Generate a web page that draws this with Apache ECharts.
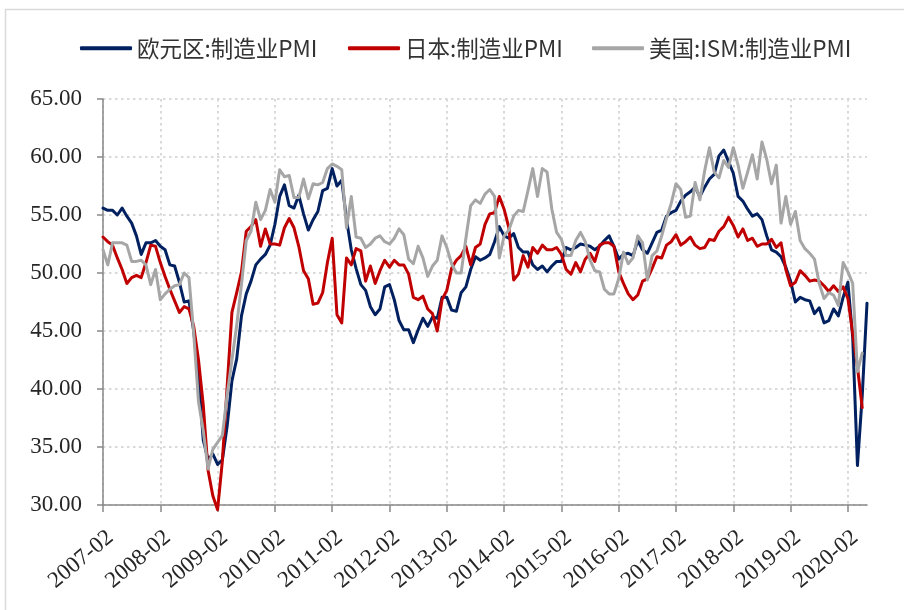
<!DOCTYPE html>
<html>
<head>
<meta charset="utf-8">
<script src="https://cdn.jsdelivr.net/npm/echarts@6/dist/echarts.min.js"></script>
<style>
  html, body { margin: 0; padding: 0; background: #ffffff; }
  #chart { width: 904px; height: 610px; }
</style>
</head>
<body>
<div id="chart"></div>
<script>
// Monthly observations, 2007-02 .. 2020-06
const months = [
  '2007-02','2007-03','2007-04','2007-05','2007-06','2007-07','2007-08','2007-09','2007-10','2007-11','2007-12',
  '2008-01','2008-02','2008-03','2008-04','2008-05','2008-06','2008-07','2008-08','2008-09','2008-10','2008-11','2008-12',
  '2009-01','2009-02','2009-03','2009-04','2009-05','2009-06','2009-07','2009-08','2009-09','2009-10','2009-11','2009-12',
  '2010-01','2010-02','2010-03','2010-04','2010-05','2010-06','2010-07','2010-08','2010-09','2010-10','2010-11','2010-12',
  '2011-01','2011-02','2011-03','2011-04','2011-05','2011-06','2011-07','2011-08','2011-09','2011-10','2011-11','2011-12',
  '2012-01','2012-02','2012-03','2012-04','2012-05','2012-06','2012-07','2012-08','2012-09','2012-10','2012-11','2012-12',
  '2013-01','2013-02','2013-03','2013-04','2013-05','2013-06','2013-07','2013-08','2013-09','2013-10','2013-11','2013-12',
  '2014-01','2014-02','2014-03','2014-04','2014-05','2014-06','2014-07','2014-08','2014-09','2014-10','2014-11','2014-12',
  '2015-01','2015-02','2015-03','2015-04','2015-05','2015-06','2015-07','2015-08','2015-09','2015-10','2015-11','2015-12',
  '2016-01','2016-02','2016-03','2016-04','2016-05','2016-06','2016-07','2016-08','2016-09','2016-10','2016-11','2016-12',
  '2017-01','2017-02','2017-03','2017-04','2017-05','2017-06','2017-07','2017-08','2017-09','2017-10','2017-11','2017-12',
  '2018-01','2018-02','2018-03','2018-04','2018-05','2018-06','2018-07','2018-08','2018-09','2018-10','2018-11','2018-12',
  '2019-01','2019-02','2019-03','2019-04','2019-05','2019-06','2019-07','2019-08','2019-09','2019-10','2019-11','2019-12',
  '2020-01','2020-02','2020-03','2020-04','2020-05','2020-06'
];

const seriesNames = ['欧元区:制造业PMI', '日本:制造业PMI', '美国:ISM:制造业PMI'];

// Eurozone manufacturing PMI
const euroPMI = [
  55.6, 55.4, 55.4, 55.0, 55.6, 54.9, 54.3, 53.2, 51.6, 52.6, 52.6,
  52.8, 52.3, 52.0, 50.7, 50.6, 49.2, 47.5, 47.6, 45.0, 41.1, 35.6, 33.9,
  34.4, 33.5, 33.9, 36.8, 40.7, 42.6, 46.3, 48.2, 49.3, 50.7, 51.2, 51.6,
  52.4, 54.2, 56.6, 57.6, 55.8, 55.6, 56.7, 55.1, 53.7, 54.6, 55.3, 57.1,
  57.3, 59.0, 57.5, 58.0, 54.6, 52.0, 50.4, 49.0, 48.5, 47.1, 46.4, 46.9,
  48.8, 49.0, 47.7, 45.9, 45.1, 45.1, 44.0, 45.1, 46.1, 45.4, 46.2, 46.1,
  47.9, 47.9, 46.8, 46.7, 48.3, 48.8, 50.3, 51.4, 51.1, 51.3, 51.6, 52.7,
  54.0, 53.2, 53.0, 53.4, 52.2, 51.8, 51.8, 50.7, 50.3, 50.6, 50.1, 50.6,
  51.0, 51.0, 52.2, 52.0, 52.2, 52.5, 52.4, 52.3, 52.0, 52.3, 52.8, 53.2,
  52.3, 51.2, 51.6, 51.7, 51.5, 52.8, 52.0, 51.7, 52.6, 53.5, 53.7, 54.9,
  55.2, 55.4, 56.2, 56.7, 57.0, 57.4, 56.6, 57.4, 58.1, 58.5, 60.1, 60.6,
  59.6, 58.6, 56.6, 56.2, 55.5, 54.9, 55.1, 54.6, 53.2, 52.0, 51.8, 51.4,
  50.5, 49.3, 47.5, 47.9, 47.7, 47.6, 46.5, 47.0, 45.7, 45.9, 46.9, 46.3,
  47.9, 49.2, 44.5, 33.4, 39.4, 47.4
];

// Japan manufacturing PMI (June 2020 not yet released)
const japanPMI = [
  53.1, 52.7, 52.4, 51.3, 50.3, 49.1, 49.6, 49.8, 49.6, 50.9, 52.4,
  52.3, 50.9, 49.7, 48.6, 47.6, 46.6, 47.1, 46.9, 45.4, 42.5, 38.6, 33.0,
  30.8, 29.6, 33.8, 40.2, 46.6, 48.3, 50.1, 53.6, 54.0, 54.6, 52.3, 53.8,
  52.5, 52.5, 52.4, 53.9, 54.7, 53.9, 52.3, 50.2, 49.5, 47.3, 47.4, 48.3,
  50.9, 53.0, 46.4, 45.7, 51.3, 50.7, 52.1, 51.9, 49.3, 50.6, 49.1, 50.2,
  51.1, 50.5, 51.1, 50.7, 50.7, 49.9, 47.9, 47.7, 48.0, 46.9, 46.5, 45.0,
  47.7, 48.5, 50.4, 51.1, 51.5, 52.3, 50.7, 52.2, 52.5, 54.2, 55.1, 55.2,
  56.6, 55.5, 53.9, 49.4, 49.9, 51.5, 50.5, 52.2, 51.7, 52.4, 52.0, 52.0,
  52.2, 51.6, 50.3, 49.9, 50.9, 50.1, 51.2, 51.7, 51.0, 52.4, 52.6, 52.6,
  52.3, 50.1, 49.1, 48.2, 47.7, 48.1, 49.3, 49.5, 50.4, 51.4, 51.3, 52.4,
  52.7, 53.3, 52.4, 52.7, 53.1, 52.4, 52.1, 52.2, 52.9, 52.8, 53.6, 54.0,
  54.8, 54.1, 53.1, 53.8, 52.8, 53.0, 52.3, 52.5, 52.5, 52.9, 52.2, 52.6,
  50.3, 48.9, 49.2, 50.2, 49.8, 49.3, 49.4, 49.3, 48.9, 48.4, 48.9, 48.4,
  48.8, 47.8, 44.8, 41.9, 38.4, null
];

// US ISM manufacturing PMI (June 2020 not yet released)
const usIsmPMI = [
  52.0, 50.7, 52.6, 52.6, 52.6, 52.4, 51.0, 51.0, 51.1, 50.7, 49.0,
  50.3, 47.7, 48.2, 48.6, 48.9, 49.0, 50.0, 49.6, 44.8, 38.9, 36.4, 33.1,
  34.8, 35.4, 36.0, 39.5, 42.5, 45.5, 49.0, 52.8, 53.6, 56.1, 54.6, 55.4,
  57.2, 56.1, 58.9, 58.3, 58.4, 56.5, 56.5, 58.1, 56.4, 57.7, 57.6, 57.8,
  59.0, 59.4, 59.2, 58.9, 53.9, 56.6, 53.1, 53.0, 52.2, 52.5, 53.0, 53.2,
  52.7, 52.5, 53.0, 53.8, 53.3, 51.2, 50.8, 52.3, 51.3, 49.7, 50.6, 51.1,
  53.2, 52.2, 50.8, 50.0, 50.0, 53.0, 55.8, 56.3, 56.0, 56.8, 57.2, 56.6,
  51.3, 53.2, 53.7, 54.9, 55.4, 55.3, 57.1, 59.0, 56.6, 59.0, 58.7, 55.5,
  53.5, 52.9, 51.5, 51.5, 52.8, 53.5, 52.7, 51.1, 50.2, 50.1, 48.6, 48.2,
  48.2, 49.5, 51.8, 50.8, 51.3, 53.2, 52.6, 49.4, 51.5, 51.9, 53.2, 54.7,
  56.0, 57.7, 57.2, 54.8, 54.9, 57.8, 56.3, 58.8, 60.8, 58.7, 58.2, 59.7,
  59.1, 60.8, 59.3, 57.3, 58.7, 60.2, 58.1, 61.3, 59.8, 57.7, 59.3, 54.3,
  56.6, 54.2, 55.3, 52.8, 52.1, 51.7, 51.2, 49.1, 47.8, 48.3, 48.1, 47.2,
  50.9, 50.1, 49.1, 41.5, 43.1, null
];

const seriesColors = ['#002060', '#C00000', '#A6A6A6'];
const seriesValues = [euroPMI, japanPMI, usIsmPMI];

const axisFont = '"Liberation Serif", "DejaVu Serif", serif';
const cjkFont = '"Noto Sans CJK SC", "Noto Sans", sans-serif';
const legendLefts = [75, 343, 587];

const chart = echarts.init(document.getElementById('chart'), null, { renderer: 'canvas' });

const option = {
  backgroundColor: '#ffffff',
  animation: false,
  graphic: [{
    type: 'rect',
    silent: true,
    z: -10,
    shape: { x: 5.5, y: 9.5, width: 1000, height: 1000 },
    style: { fill: 'none', stroke: '#d9d9d9', lineWidth: 1.5 }
  }],
  legend: seriesNames.map((name, i) => ({
    data: [name],
    left: legendLefts[i],
    top: 32,
    icon: 'roundRect',
    itemWidth: 52,
    itemHeight: 4,
    itemGap: 0,
    textStyle: { fontFamily: cjkFont, fontSize: 22.5, color: '#333333' }
  })),
  grid: { left: 103, right: 37, top: 99, bottom: 105, containLabel: false },
  xAxis: {
    type: 'category',
    data: months,
    boundaryGap: false,
    axisLine: { show: true, lineStyle: { color: '#898989', width: 1.5 } },
    axisTick: { show: true, interval: 11, length: 7, lineStyle: { color: '#898989', width: 1.5 } },
    axisLabel: {
      interval: 11,
      rotate: 40,
      margin: 21,
      verticalAlign: 'top',
      fontFamily: axisFont,
      fontSize: 23,
      color: '#262626'
    },
    splitLine: {
      show: true,
      interval: 11,
      lineStyle: { color: '#d9d9d9', width: 2, type: [2.5, 3.5] }
    }
  },
  yAxis: {
    type: 'value',
    min: 30,
    max: 65,
    interval: 5,
    axisLine: { show: true, lineStyle: { color: '#898989', width: 1.5 } },
    axisTick: { show: true, length: 6, lineStyle: { color: '#898989', width: 1.5 } },
    axisLabel: {
      margin: 21,
      fontFamily: axisFont,
      fontSize: 23,
      color: '#262626',
      formatter: v => v.toFixed(2)
    },
    splitLine: {
      show: true,
      lineStyle: { color: '#d9d9d9', width: 2, type: [2.5, 3.5] }
    }
  },
  series: seriesNames.map((name, i) => ({
    name: name,
    type: 'line',
    data: seriesValues[i],
    symbol: 'none',
    clip: false,
    connectNulls: false,
    color: seriesColors[i],
    lineStyle: { width: 3, color: seriesColors[i], cap: 'round', join: 'round' }
  }))
};

chart.setOption(option);
</script>
</body>
</html>
